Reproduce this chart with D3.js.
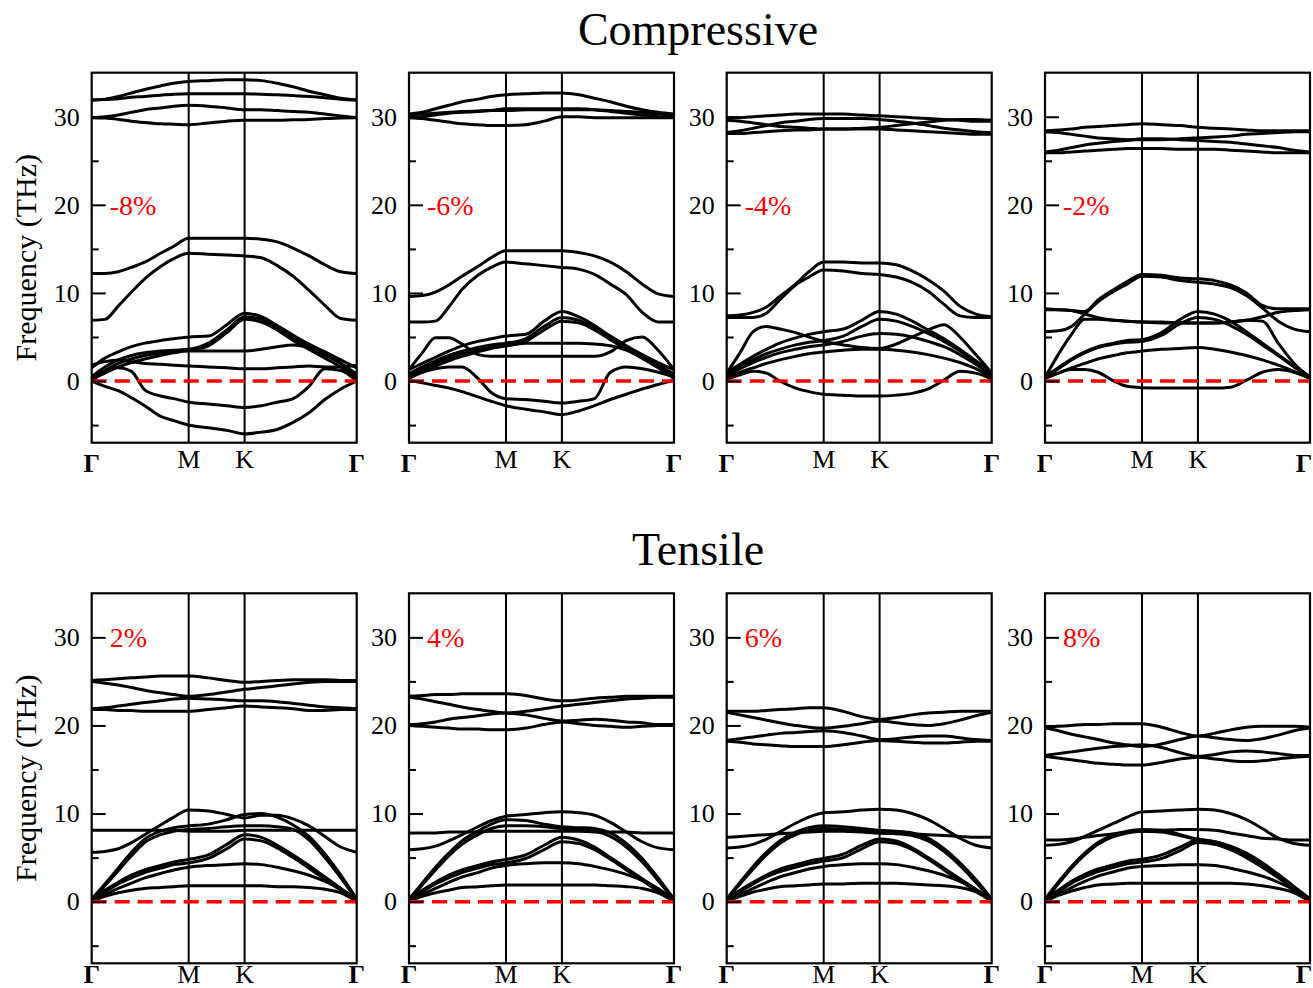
<!DOCTYPE html>
<html><head><meta charset="utf-8">
<script src="https://cdn.jsdelivr.net/npm/d3@7"></script>
<style>body{margin:0;background:#fff} svg text{font-family:'Liberation Serif','DejaVu Serif','Times New Roman',serif;}</style>
</head><body><div id="chart"></div>
<script>
// k-path sample positions (fraction of the Γ-M-K-Γ path)
const kGrid = [0, 0.05, 0.10, 0.15, 0.20, 0.26, 0.31, 0.366, 0.44, 0.51, 0.577, 0.64, 0.70, 0.76, 0.82, 0.88, 0.94, 1.0];
const highSymLabels = ["Γ", "M", "K", "Γ"];
const highSymPos = [0, 0.366, 0.577, 1];
const majorTicks = [0, 10, 20, 30];
const minorTicks = [-5, 5, 15, 25];
const freqDomain = [-7, 35];
const rowTitles = ["Compressive", "Tensile"];
const strainLabels = ["-8%", "-6%", "-4%", "-2%", "2%", "4%", "6%", "8%"];
const yTitle = "Frequency (THz)";

const bandsM8 = [
 [31.9,32.0,32.3,32.7,33.1,33.5,33.8,34.0,34.1,34.2,34.2,34.1,33.8,33.4,32.9,32.5,32.1,31.9],
 [31.9,31.95,32.05,32.2,32.3,32.45,32.55,32.6,32.6,32.6,32.6,32.55,32.5,32.4,32.3,32.15,32.0,31.9],
 [29.9,30.0,30.2,30.5,30.8,31.0,31.2,31.3,31.2,31.0,30.8,30.8,30.7,30.6,30.5,30.3,30.1,29.9],
 [29.9,29.85,29.7,29.5,29.35,29.2,29.15,29.1,29.3,29.5,29.6,29.6,29.6,29.65,29.7,29.8,29.85,29.9],
 [12.2,12.2,12.4,12.9,13.5,14.5,15.3,16.2,16.2,16.2,16.2,16.1,15.8,15.1,14.2,13.2,12.4,12.2],
 [6.9,7.0,8.5,10.1,11.6,13.0,13.9,14.5,14.4,14.3,14.2,14.0,13.1,11.9,10.3,8.6,7.1,6.9],
 [1.5,2.6,3.3,3.9,4.3,4.6,4.8,5.0,5.1,6.4,7.7,7.3,6.3,5.2,4.2,3.3,2.4,1.5],
 [0.5,1.6,2.4,2.9,3.2,3.4,3.5,3.6,4.3,5.8,7.3,7.0,6.0,4.9,3.9,3.0,2.0,0.8],
 [0.3,1.2,2.0,2.5,2.9,3.2,3.4,3.5,4.0,5.5,7.0,6.7,5.8,4.6,3.6,2.6,1.6,0.5],
 [0.2,0.9,1.6,2.1,2.5,2.9,3.2,3.4,3.4,3.4,3.4,3.6,3.9,4.1,3.8,3.0,2.0,0.3],
 [1.8,2.2,2.4,2.2,2.0,1.9,1.8,1.7,1.6,1.5,1.4,1.4,1.5,1.6,1.7,1.6,1.6,1.8],
 [0,1.1,1.5,1.1,-1.0,-1.7,-2.0,-2.4,-2.6,-2.8,-3.0,-2.8,-2.4,-2.0,-0.6,1.4,1.2,0],
 [0,-0.6,-1.1,-1.9,-2.8,-4.0,-4.5,-5.0,-5.3,-5.6,-6.0,-5.8,-5.5,-4.7,-3.6,-2.1,-0.9,0]
];
const bandsM6 = [
 [30.3,30.5,30.9,31.3,31.7,32.0,32.3,32.5,32.6,32.7,32.7,32.5,32.1,31.7,31.2,30.8,30.5,30.3],
 [30.2,30.3,30.4,30.5,30.6,30.65,30.7,30.7,30.8,30.8,30.8,30.8,30.8,30.7,30.6,30.5,30.3,30.2],
 [29.9,30.0,30.2,30.4,30.5,30.6,30.7,30.9,30.9,30.9,30.9,30.9,30.8,30.6,30.4,30.2,30.0,29.9],
 [29.9,29.8,29.6,29.4,29.2,29.1,29.0,29.0,29.1,29.5,30.0,30.0,29.9,29.9,29.9,29.9,29.9,29.9],
 [9.6,9.7,10.1,10.9,11.9,13.0,14.0,14.8,14.8,14.8,14.8,14.6,14.2,13.5,12.4,11.0,9.9,9.6],
 [6.7,6.7,6.8,8.4,10.4,12.0,12.9,13.5,13.3,13.1,12.9,12.7,12.1,11.0,9.8,7.8,6.7,6.7],
 [1.3,3.2,4.9,4.9,4.2,3.0,2.8,2.8,2.8,2.8,2.8,2.8,2.8,3.3,4.6,5.0,3.5,1.3],
 [1.3,2.0,2.7,3.4,4.0,4.5,4.8,5.1,5.3,6.8,7.9,7.3,6.3,5.1,4.0,3.0,2.1,1.3],
 [0.8,1.6,2.3,2.9,3.4,3.8,4.1,4.3,4.8,6.2,7.2,6.9,6.0,4.9,3.8,2.8,1.8,0.8],
 [0.5,1.3,2.0,2.6,3.1,3.5,3.8,4.0,4.5,5.8,6.8,6.6,5.8,4.7,3.6,2.6,1.6,0.5],
 [0.3,1.0,1.7,2.3,2.8,3.3,3.7,4.0,4.3,4.3,4.3,4.3,4.2,4.0,3.5,2.6,1.5,0.3],
 [0.5,1.0,1.4,1.6,1.6,0.3,-1.3,-2.0,-2.1,-2.3,-2.5,-2.3,-2.0,1.0,1.6,1.4,1.0,0.5],
 [0.1,-0.2,-0.5,-0.8,-1.2,-1.8,-2.3,-2.8,-3.2,-3.5,-3.8,-3.4,-2.8,-2.1,-1.5,-0.9,-0.4,0.1]
];
const bandsM4 = [
 [29.9,29.9,30.0,30.1,30.2,30.3,30.3,30.3,30.3,30.2,30.1,30.0,29.9,29.8,29.7,29.6,29.5,29.5],
 [28.2,28.4,28.7,29.0,29.3,29.5,29.7,29.8,29.8,29.8,29.7,29.5,29.3,29.0,28.7,28.5,28.3,28.2],
 [29.6,29.5,29.3,29.1,28.9,28.8,28.7,28.6,28.6,28.7,28.8,29.0,29.2,29.4,29.6,29.7,29.7,29.6],
 [28.1,28.1,28.2,28.3,28.4,28.5,28.5,28.6,28.6,28.6,28.6,28.5,28.4,28.3,28.2,28.1,28.0,28.0],
 [7.4,7.5,7.8,8.4,9.6,11.0,12.4,13.5,13.5,13.4,13.4,13.2,12.5,11.5,10.2,8.5,7.6,7.3],
 [7.2,7.2,7.2,7.7,9.2,10.9,11.8,12.6,12.5,12.2,12.1,11.8,11.2,10.2,8.7,7.4,7.2,7.2],
 [1.0,1.9,2.8,3.6,4.3,4.9,5.3,5.6,5.9,6.9,7.9,7.6,6.8,5.8,4.8,3.6,2.3,1.0],
 [0.8,1.6,2.4,3.1,3.6,4.1,4.4,4.6,5.1,6.2,7.0,6.8,6.2,5.4,4.5,3.4,2.1,0.8],
 [0.6,1.4,2.1,2.7,3.2,3.6,3.9,4.1,4.5,5.1,5.4,5.3,5.0,4.5,3.9,3.0,1.9,0.6],
 [0.9,3.2,5.6,6.2,5.9,5.5,5.0,4.5,4.1,3.8,3.7,4.2,5.0,5.8,6.4,5.0,3.0,0.9],
 [0.4,1.0,1.5,2.0,2.4,2.8,3.1,3.3,3.5,3.6,3.6,3.5,3.3,3.0,2.6,2.1,1.4,0.4],
 [0.2,0.7,1.1,0.9,0.0,-0.8,-1.2,-1.5,-1.6,-1.7,-1.7,-1.6,-1.4,-0.9,0.1,1.1,0.9,0.2]
];
const bandsM2 = [
 [28.4,28.5,28.6,28.8,28.9,29.0,29.1,29.2,29.1,29.0,28.8,28.7,28.6,28.5,28.4,28.4,28.4,28.4],
 [28.3,28.2,28.0,27.8,27.6,27.5,27.4,27.4,27.4,27.5,27.6,27.7,27.8,28.0,28.1,28.2,28.3,28.3],
 [26.0,26.2,26.5,26.8,27.0,27.2,27.3,27.5,27.5,27.4,27.3,27.2,27.1,26.9,26.7,26.5,26.2,26.0],
 [25.9,25.9,26.0,26.1,26.2,26.3,26.4,26.4,26.4,26.3,26.3,26.3,26.2,26.1,26.0,25.9,25.9,25.9],
 [8.2,8.1,8.0,7.9,9.2,10.4,11.3,12.1,12.0,11.7,11.6,11.4,10.9,10.0,8.6,8.2,8.2,8.2],
 [5.6,5.7,6.2,7.6,9.0,10.2,11.0,11.9,11.8,11.4,11.2,11.0,10.6,9.7,8.3,6.8,5.9,5.6],
 [8.1,8.1,8.0,7.6,7.2,6.9,6.8,6.7,6.7,6.6,6.6,6.6,6.7,6.9,7.3,7.8,8.0,8.1],
 [0.4,3.0,5.3,7.0,7.0,6.9,6.8,6.7,6.6,6.6,6.6,6.6,6.7,6.9,6.8,4.3,2.0,0.4],
 [0.5,1.5,2.5,3.3,3.9,4.3,4.6,4.7,5.5,7.0,7.9,7.6,6.8,5.6,4.3,3.0,1.7,0.5],
 [0.4,1.4,2.4,3.2,3.8,4.2,4.4,4.5,5.2,6.5,7.2,7.0,6.3,5.3,4.1,2.9,1.6,0.4],
 [0.3,0.9,1.5,2.0,2.5,2.9,3.2,3.4,3.6,3.7,3.8,3.6,3.3,2.9,2.4,1.8,1.1,0.3],
 [0.3,0.9,1.3,1.3,1.0,0.0,-0.6,-0.75,-0.8,-0.8,-0.8,-0.8,-0.7,0.1,1.0,1.3,1.0,0.3]
];
const bandsT2 = [
 [25.1,25.2,25.3,25.4,25.5,25.6,25.6,25.6,25.4,25.1,24.9,25.0,25.1,25.2,25.2,25.2,25.1,25.1],
 [25.0,24.8,24.6,24.3,24.0,23.7,23.5,23.3,23.5,23.8,24.1,24.3,24.5,24.7,24.9,25.0,25.0,25.0],
 [21.9,22.0,22.2,22.4,22.6,22.8,23.0,23.1,23.0,22.9,22.8,22.8,22.7,22.5,22.3,22.1,22.0,21.9],
 [21.8,21.8,21.7,21.7,21.6,21.6,21.6,21.6,21.8,22.0,22.2,22.1,22.0,21.9,21.7,21.7,21.8,21.8],
 [8.1,8.1,8.1,8.1,8.1,8.1,8.1,8.0,8.0,8.0,8.1,8.1,8.1,8.1,8.1,8.1,8.1,8.1],
 [5.6,5.7,6.0,6.7,7.6,8.7,9.6,10.4,10.3,9.9,9.5,9.8,9.8,9.4,8.6,7.4,6.2,5.6],
 [0.3,2.0,3.8,5.6,7.1,8.0,8.4,8.6,8.8,9.3,9.9,10.0,9.6,8.7,7.4,5.4,3.0,0.3],
 [0.2,1.8,3.5,5.2,6.7,7.6,8.0,8.2,8.3,8.5,8.6,8.6,8.5,8.2,7.0,5.0,2.7,0.2],
 [0.3,1.3,2.2,3.0,3.6,4.1,4.5,4.8,5.3,6.5,7.6,7.3,6.4,5.3,4.1,2.8,1.5,0.3],
 [0.2,1.1,2.0,2.7,3.3,3.8,4.2,4.4,4.9,6.0,7.1,6.9,6.1,5.0,3.8,2.5,1.3,0.2],
 [0.1,0.8,1.5,2.1,2.7,3.2,3.6,3.9,4.1,4.2,4.3,4.2,3.9,3.5,3.0,2.3,1.4,0.1],
 [0.0,0.6,1.0,1.3,1.5,1.6,1.7,1.8,1.8,1.8,1.8,1.8,1.7,1.7,1.6,1.4,1.0,0.0]
];
const bandsT4 = [
 [23.3,23.4,23.5,23.5,23.6,23.6,23.6,23.6,23.4,23.0,22.8,22.9,23.1,23.2,23.3,23.3,23.3,23.3],
 [23.2,23.0,22.7,22.4,22.1,21.8,21.6,21.4,21.6,21.9,22.2,22.4,22.6,22.8,23.0,23.1,23.2,23.2],
 [20.1,20.2,20.4,20.7,20.9,21.1,21.3,21.4,21.2,20.8,20.5,20.6,20.7,20.6,20.4,20.3,20.1,20.1],
 [20.0,19.9,19.8,19.7,19.6,19.6,19.5,19.5,19.7,20.1,20.4,20.2,20.0,19.9,19.8,19.9,20.0,20.0],
 [7.8,7.8,7.8,7.9,7.9,7.9,8.0,8.0,8.0,8.0,8.0,8.0,7.9,7.9,7.9,7.8,7.8,7.8],
 [5.9,6.0,6.3,6.9,7.6,8.5,9.2,9.7,9.9,10.1,10.2,10.1,9.8,9.0,7.9,6.8,6.1,5.9],
 [0.3,2.1,3.9,5.5,6.9,8.0,8.8,9.3,9.2,8.8,8.5,8.4,8.3,7.8,6.6,4.9,2.7,0.3],
 [0.2,1.9,3.6,5.2,6.5,7.6,8.3,8.6,8.6,8.5,8.3,8.2,8.0,7.4,6.2,4.5,2.4,0.2],
 [0.3,1.3,2.2,3.0,3.6,4.1,4.5,4.8,5.3,6.4,7.3,7.0,6.2,5.0,3.8,2.6,1.4,0.3],
 [0.2,1.1,2.0,2.7,3.3,3.8,4.2,4.4,4.9,5.9,6.8,6.6,5.9,4.8,3.6,2.4,1.2,0.2],
 [0.1,0.8,1.5,2.2,2.8,3.3,3.8,4.1,4.3,4.4,4.4,4.3,4.0,3.6,3.1,2.4,1.5,0.1],
 [0.0,0.6,1.0,1.3,1.6,1.7,1.8,1.9,1.9,1.9,1.9,1.9,1.9,1.8,1.7,1.5,1.0,0.0]
];
const bandsT6 = [
 [21.6,21.6,21.6,21.7,21.8,21.9,22.0,22.0,21.6,21.0,20.7,20.9,21.2,21.4,21.5,21.6,21.6,21.6],
 [21.5,21.2,20.9,20.6,20.3,20.0,19.8,19.7,19.9,20.2,20.5,20.3,20.1,20.0,20.2,20.6,21.1,21.5],
 [18.3,18.5,18.7,18.9,19.1,19.2,19.3,19.4,19.2,18.8,18.4,18.5,18.7,18.8,18.8,18.6,18.4,18.3],
 [18.2,18.1,17.9,17.8,17.7,17.6,17.6,17.6,17.8,18.1,18.3,18.2,18.1,18.0,18.0,18.1,18.2,18.2],
 [7.3,7.4,7.5,7.6,7.7,7.8,7.9,8.0,8.0,7.9,7.8,7.8,7.7,7.6,7.5,7.4,7.3,7.3],
 [6.1,6.2,6.5,7.1,7.9,8.9,9.6,10.1,10.2,10.4,10.5,10.4,10.0,9.3,8.3,7.2,6.4,6.1],
 [0.3,2.2,4.0,5.6,6.9,7.9,8.4,8.6,8.5,8.3,8.1,8.0,7.8,7.2,6.0,4.4,2.5,0.3],
 [0.2,2.0,3.7,5.3,6.6,7.6,8.1,8.3,8.2,8.0,7.8,7.7,7.5,6.9,5.7,4.1,2.2,0.2],
 [0.3,1.3,2.2,3.0,3.7,4.2,4.6,4.9,5.4,6.4,7.1,6.9,6.1,5.0,3.8,2.6,1.4,0.3],
 [0.2,1.1,2.0,2.8,3.4,3.9,4.3,4.6,5.0,6.0,6.8,6.6,5.9,4.8,3.6,2.4,1.2,0.2],
 [0.1,0.8,1.5,2.2,2.8,3.3,3.7,4.0,4.2,4.3,4.3,4.2,3.9,3.5,3.0,2.3,1.4,0.1],
 [0.0,0.6,1.1,1.4,1.7,1.8,1.9,2.0,2.0,2.1,2.1,2.1,2.0,1.9,1.8,1.6,1.1,0.0]
];
const bandsT8 = [
 [19.8,19.9,20.0,20.1,20.1,20.2,20.2,20.2,19.8,19.2,18.8,19.1,19.5,19.8,19.9,19.9,19.9,19.8],
 [19.7,19.4,19.0,18.7,18.4,18.0,17.8,17.6,17.9,18.4,18.8,18.6,18.4,18.3,18.5,18.9,19.4,19.7],
 [16.6,16.8,17.0,17.2,17.4,17.6,17.7,17.8,17.5,16.9,16.5,16.7,17.0,17.1,17.0,16.8,16.6,16.6],
 [16.5,16.3,16.1,15.9,15.7,15.6,15.5,15.5,15.8,16.2,16.4,16.2,16.0,15.9,16.0,16.2,16.4,16.5],
 [7.0,7.0,7.1,7.3,7.5,7.7,7.9,8.0,8.1,8.2,8.2,8.1,7.8,7.5,7.2,7.1,7.0,7.0],
 [6.4,6.5,6.8,7.4,8.1,8.9,9.6,10.2,10.3,10.4,10.5,10.4,10.0,9.3,8.3,7.2,6.6,6.4],
 [0.3,2.2,4.0,5.5,6.7,7.6,8.0,8.2,8.1,7.6,7.1,6.8,6.3,5.5,4.4,3.1,1.7,0.3],
 [0.2,2.0,3.8,5.3,6.5,7.4,7.8,8.0,7.9,7.5,7.0,6.6,6.0,5.2,4.1,2.9,1.5,0.2],
 [0.3,1.3,2.3,3.1,3.7,4.2,4.6,4.8,5.3,6.2,7.0,6.8,6.2,5.3,4.2,3.0,1.6,0.3],
 [0.2,1.1,2.1,2.8,3.4,3.9,4.3,4.5,4.9,5.8,6.7,6.5,5.9,5.0,3.9,2.7,1.4,0.2],
 [0.1,0.8,1.6,2.3,2.9,3.4,3.8,4.0,4.1,4.2,4.2,4.1,3.8,3.4,2.9,2.2,1.3,0.1],
 [0.0,0.7,1.2,1.6,1.9,2.0,2.1,2.1,2.1,2.1,2.1,2.1,2.1,2.0,1.8,1.5,1.0,0.0]
];
const panelBands = [bandsM8, bandsM6, bandsM4, bandsM2, bandsT2, bandsT4, bandsT6, bandsT8];

// ---------- layout ----------
const W = 1313, H = 988;
const colLeft = [91.7, 409, 726.7, 1045];
const panelW = 265;
const rowTop = [72.7, 593.3];
const panelH = 370;
const titleY = [45, 565];
const labelOffset = [25, 20];
const serif = "'Liberation Serif','DejaVu Serif','Times New Roman',serif";

const svg = d3.select("#chart").append("svg")
  .attr("width", W).attr("height", H)
  .style("background", "#fff");

function serifText(sel, size) {
  return sel.style("font-family", serif).style("font-size", size + "px");
}

// row titles
rowTitles.forEach((t, r) => {
  serifText(svg.append("text").attr("x", 698).attr("y", titleY[r])
    .attr("text-anchor", "middle").attr("fill", "#000").text(t), 46);
});

panelBands.forEach((bands, i) => {
  const row = Math.floor(i / 4), col = i % 4;
  const left = colLeft[col], top = rowTop[row];
  const x = d3.scaleLinear().domain([0, 1]).range([left, left + panelW]);
  const y = d3.scaleLinear().domain(freqDomain).range([top + panelH, top]);
  const g = svg.append("g");

  const clipId = "clip" + i;
  svg.append("clipPath").attr("id", clipId).append("rect")
    .attr("x", left).attr("y", top).attr("width", panelW).attr("height", panelH);

  // vertical lines at M and K
  g.selectAll("line.hs").data(highSymPos.slice(1, 3)).enter().append("line")
    .attr("x1", d => x(d)).attr("x2", d => x(d))
    .attr("y1", top).attr("y2", top + panelH)
    .attr("stroke", "#000").attr("stroke-width", 2);

  // bands
  const line = d3.line()
    .x((d, j) => x(kGrid[j]))
    .y(d => y(d))
    .curve(d3.curveMonotoneX);
  g.append("g").attr("clip-path", `url(#${clipId})`)
    .selectAll("path").data(bands).enter().append("path")
    .attr("d", line).attr("fill", "none")
    .attr("stroke", "#000").attr("stroke-width", 3)
    .attr("stroke-linejoin", "round").attr("stroke-linecap", "round");

  // zero dashed line
  g.append("line")
    .attr("x1", x(0)).attr("x2", x(1))
    .attr("y1", y(0)).attr("y2", y(0))
    .attr("stroke", "#ff0000").attr("stroke-width", 3.5)
    .attr("stroke-dasharray", "15,8");

  // axes ticks (inward)
  const major = d3.axisLeft(y).tickValues(majorTicks).tickSize(-14).tickPadding(12);
  const minor = d3.axisLeft(y).tickValues(minorTicks).tickSize(-7).tickFormat("");
  const ga = g.append("g").attr("transform", `translate(${left},0)`).call(major);
  const gm = g.append("g").attr("transform", `translate(${left},0)`).call(minor);
  [ga, gm].forEach(a => {
    a.attr("font-family", null).attr("font-size", null);
    a.select(".domain").remove();
    a.selectAll(".tick line").attr("stroke", "#000").attr("stroke-width", 2);
  });
  serifText(ga.selectAll(".tick text"), 26).attr("fill", "#000");

  // frame
  g.append("rect").attr("x", left).attr("y", top)
    .attr("width", panelW).attr("height", panelH)
    .attr("fill", "none").attr("stroke", "#000").attr("stroke-width", 2.2);

  // high-symmetry labels
  highSymLabels.forEach((lab, j) => {
    const isG = lab === "Γ";
    const lx = Math.min(x(highSymPos[j]), W - 9);
    serifText(g.append("text").attr("x", lx)
      .attr("y", top + panelH + labelOffset[row] + (isG && row === 0 ? 4 : 0))
      .attr("text-anchor", "middle")
      .attr("font-weight", isG ? "bold" : "normal")
      .attr("fill", "#000").text(lab), 26);
  });

  // strain label
  serifText(g.append("text").attr("x", left + 18).attr("y", y(row === 0 ? 20 : 30))
    .attr("dy", "0.35em")
    .attr("fill", "#ff0000").text(strainLabels[i]), 28);

  // y title on first column
  if (col === 0) {
    serifText(svg.append("text")
      .attr("transform", `translate(36,${top + panelH / 2}) rotate(-90)`)
      .attr("text-anchor", "middle")
      .attr("fill", "#000").text(yTitle), 30);
  }
});
</script>
</body></html>
